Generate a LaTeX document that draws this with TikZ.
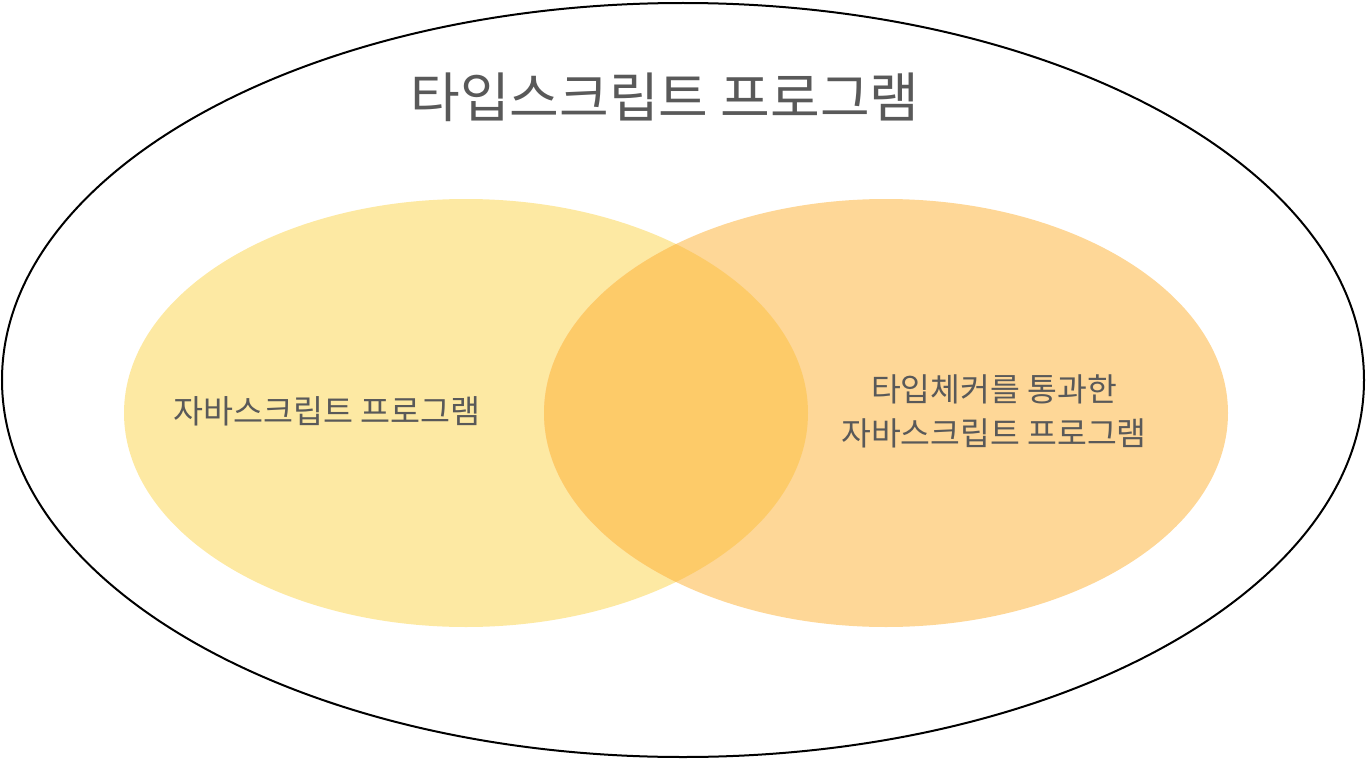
\documentclass[tikz,border=0pt]{standalone}
\usepackage{fontspec}
\newfontfamily\kr{Noto Sans CJK KR}
\definecolor{leftc}{HTML}{FDE9A3}
\definecolor{rightc}{HTML}{FED797}
\definecolor{midc}{HTML}{FDCB69}
\definecolor{txt}{HTML}{595959}
\tikzset{lbl/.style={text=txt,font=\kr,align=center,inner sep=0pt}}
\begin{document}
\begin{tikzpicture}[x=1pt,y=-1pt]
\useasboundingbox (0,0) rectangle (1366,760);
\draw[line width=2pt,black] (683,380) ellipse [x radius=681,y radius=377];
\fill[leftc] (466,413) ellipse [x radius=342,y radius=214];
\fill[rightc] (886,413) ellipse [x radius=342,y radius=214];
\begin{scope}
\clip (466,413) ellipse [x radius=342,y radius=214];
\fill[midc] (886,413) ellipse [x radius=342,y radius=214];
\end{scope}
\node[lbl,font=\kr\fontsize{54}{60}\selectfont] (title) at (665,97) {타입스크립트 프로그램};
\node[lbl,font=\kr\fontsize{32.6}{36}\selectfont] (js) at (327,411) {자바스크립트 프로그램};
\node[lbl,font=\kr\fontsize{32.4}{44}\selectfont] (ts) at (994,411) {타입체커를 통과한\\자바스크립트 프로그램};
\end{tikzpicture}
\end{document}
